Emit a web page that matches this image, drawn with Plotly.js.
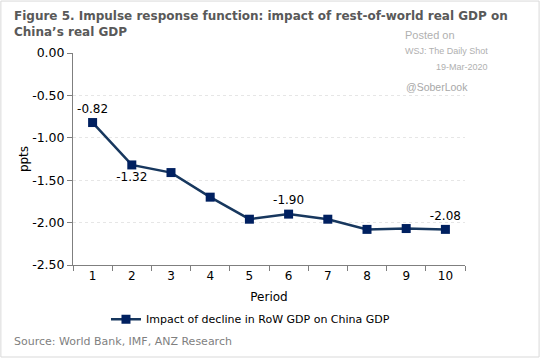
<!DOCTYPE html>
<html><head><meta charset="utf-8">
<script src="https://cdn.plot.ly/plotly-3.0.1.min.js"></script>
<style>html,body{margin:0;padding:0;background:#fff}#chart{width:541px;height:359px}</style>
</head><body><div id="chart"></div>
<script>
const periods = ['1','2','3','4','5','6','7','8','9','10'];
const impact = [-0.82, -1.32, -1.41, -1.70, -1.96, -1.90, -1.96, -2.08, -2.07, -2.08];
const labelText = ['-0.82','-1.32','','','','-1.90','','','','-2.08'];
const labelPos = ['top center','bottom center','top center','top center','top center','top center','top center','top center','top center','top center'];
const seriesName = 'Impact of decline in RoW GDP on China GDP';
const yTicks = [0, -0.5, -1.0, -1.5, -2.0, -2.5];
const yTickText = ['0.00','-0.50','-1.00','-1.50','-2.00','-2.50'];

const font = 'Verdana, "DejaVu Sans", sans-serif';
const wm = 'Arial, "Liberation Sans", sans-serif';
const trace = {
  x: periods, y: impact, type: 'scatter', mode: 'lines+markers+text',
  name: seriesName,
  text: labelText, textposition: labelPos,
  textfont: {family: font, size: 12, color: '#000'},
  line: {color: '#17375E', width: 2.5},
  marker: {symbol: 'square', size: 9, color: '#002060'},
  cliponaxis: false
};
const layout = {
  width: 541, height: 359,
  margin: {l: 73, r: 76, t: 53, b: 94, autoexpand: false},
  paper_bgcolor: '#fff', plot_bgcolor: '#fff',
  font: {family: font, size: 12, color: '#000'},
  showlegend: true,
  legend: {orientation: 'h', xref: 'container', yref: 'container', x: 0.463, xanchor: 'center', y: 0.111, yanchor: 'middle',
    font: {family: font, size: 11, color: '#000'}, bgcolor: 'rgba(0,0,0,0)'},
  xaxis: {
    type: 'category', range: [-0.5, 9.5], automargin: false,
    showline: true, linecolor: '#7f7f7f', linewidth: 1,
    ticks: 'outside', ticklen: 5, tickcolor: '#7f7f7f', tickson: 'boundaries',
    showgrid: false, zeroline: false,
    tickfont: {family: font, size: 12, color: '#000'},
    title: {text: 'Period', font: {family: font, size: 12, color: '#000'}, standoff: 10}
  },
  yaxis: {
    range: [-2.5, 0], tickvals: yTicks, ticktext: yTickText, automargin: false,
    showline: true, linecolor: '#7f7f7f', linewidth: 1,
    ticks: 'outside', ticklen: 5, tickcolor: '#7f7f7f',
    showgrid: true, gridcolor: '#e6e6e6', griddash: 'dot', gridwidth: 1,
    zeroline: false,
    tickfont: {family: font, size: 12.5, color: '#000'},
    title: {text: 'ppts', font: {family: font, size: 12, color: '#000'}, standoff: 0}
  },
  annotations: [
    {xref: 'paper', yref: 'paper', x: -0.155, y: 1.218, xanchor: 'left', yanchor: 'top', align: 'left', showarrow: false,
     text: '<b>Figure 5. Impulse response function: impact of rest-of-world real GDP on<br>China’s real GDP</b>',
     font: {family: font, size: 12, color: '#595959'}},
    {xref: 'paper', yref: 'paper', x: -0.155, y: -0.32, xanchor: 'left', yanchor: 'top', align: 'left', showarrow: false,
     text: 'Source: World Bank, IMF, ANZ Research',
     font: {family: font, size: 11, color: '#7f7f7f'}},
    {xref: 'paper', yref: 'paper', x: 0.98, y: 1.085, xanchor: 'right', yanchor: 'middle', showarrow: false,
     text: 'Posted on', font: {family: wm, size: 11, color: '#b0b0b0'}},
    {xref: 'paper', yref: 'paper', x: 1.064, y: 1.009, xanchor: 'right', yanchor: 'middle', showarrow: false,
     text: 'WSJ: The Daily Shot', font: {family: wm, size: 9, color: '#b0b0b0'}},
    {xref: 'paper', yref: 'paper', x: 1.064, y: 0.934, xanchor: 'right', yanchor: 'middle', showarrow: false,
     text: '19-Mar-2020', font: {family: wm, size: 9, color: '#b0b0b0'}},
    {xref: 'paper', yref: 'paper', x: 1.013, y: 0.84, xanchor: 'right', yanchor: 'middle', showarrow: false,
     text: '@SoberLook', font: {family: wm, size: 10.5, color: '#a8a8a8'}}
  ],
  shapes: [
    {type: 'rect', xref: 'paper', yref: 'paper', x0: -0.184, x1: 1.189, y0: -0.434, y1: 1.245,
     line: {color: '#d9d9d9', width: 1}, fillcolor: 'rgba(0,0,0,0)', layer: 'below'}
  ]
};
Plotly.newPlot('chart', [trace], layout, {displayModeBar: false, staticPlot: true});
</script>
</body></html>
